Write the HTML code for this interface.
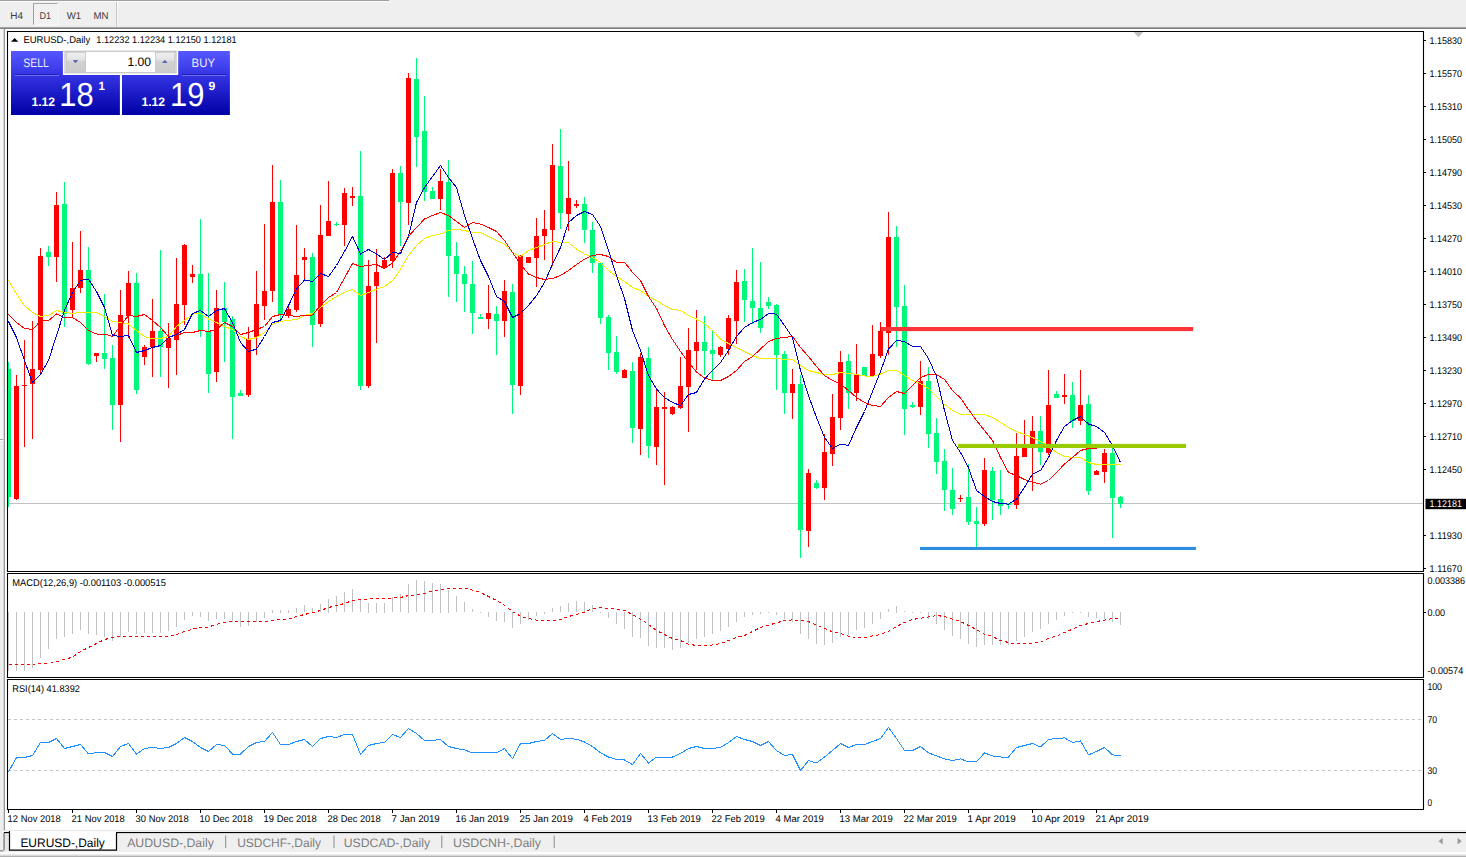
<!DOCTYPE html>
<html><head><meta charset="utf-8"><title>EURUSD-,Daily</title>
<style>
html,body{margin:0;padding:0;background:#fff;overflow:hidden;}
body{width:1466px;height:857px;font-family:"Liberation Sans",sans-serif;}
svg{display:block;font-family:"Liberation Sans",sans-serif;}
</style></head><body>
<svg width="1466" height="857" viewBox="0 0 1466 857" text-rendering="geometricPrecision">
<rect x="0" y="0" width="1466" height="857" fill="#ffffff" />
<rect x="0" y="0" width="1466" height="29" fill="#efefef" />
<rect x="0" y="0" width="389" height="1" fill="#a0a0a0" />
<rect x="0" y="1" width="389" height="1" fill="#fafafa" />
<linearGradient id="tbl" x1="0" y1="0" x2="0" y2="1"><stop offset="0" stop-color="#e4e4e4"/><stop offset="0.7" stop-color="#6c6c6c"/><stop offset="1" stop-color="#b0b0b0"/></linearGradient>
<rect x="0" y="26.6" width="1466" height="2.4" fill="url(#tbl)" />
<rect x="0" y="29" width="1466" height="2" fill="#ffffff" />
<rect x="0" y="29" width="5" height="802" fill="#f0f0f0" />
<linearGradient id="lft" x1="0" y1="0" x2="1" y2="0"><stop offset="0" stop-color="#d8d8d8"/><stop offset="1" stop-color="#7c7c7c"/></linearGradient>
<rect x="3.2" y="29" width="1.8" height="802" fill="url(#lft)" />
<rect x="0" y="29" width="3.2" height="410" fill="#f7f7f7" />
<rect x="0" y="439" width="3.2" height="1" fill="#a6a6a6" />
<rect x="0" y="440" width="3.2" height="1" fill="#ffffff" />
<rect x="0" y="441" width="3.2" height="390" fill="#eeeeee" />
<pattern id="dots" width="2" height="2" patternUnits="userSpaceOnUse"><rect width="2" height="2" fill="#f6f6f6"/><rect width="1" height="1" fill="#ececec"/><rect x="1" y="1" width="1" height="1" fill="#ececec"/></pattern>
<rect x="33" y="3" width="25.5" height="22.5" fill="url(#dots)" />
<rect x="33" y="3" width="25.2" height="1.0" fill="#a8a8a8" />
<rect x="33" y="3" width="1.0" height="22.2" fill="#a0a0a0" />
<rect x="57.6" y="3" width="0.9" height="22.5" fill="#fbfbfb" />
<rect x="33" y="24.6" width="25.5" height="0.9" fill="#fbfbfb" />
<text x="10.3" y="18.9" font-size="9.8" fill="#3c3c3c" textLength="12.8" lengthAdjust="spacingAndGlyphs" >H4</text>
<text x="39.5" y="18.9" font-size="9.8" fill="#3c3c3c" textLength="11.6" lengthAdjust="spacingAndGlyphs" >D1</text>
<text x="66.8" y="18.9" font-size="9.8" fill="#3c3c3c" textLength="14.4" lengthAdjust="spacingAndGlyphs" >W1</text>
<text x="93.4" y="18.9" font-size="9.8" fill="#3c3c3c" textLength="15.0" lengthAdjust="spacingAndGlyphs" >MN</text>
<rect x="116.2" y="2" width="0.9" height="24.5" fill="#bdbdbd" />
<rect x="117.1" y="2" width="0.9" height="24.5" fill="#fbfbfb" />
<path d="M7.5 31.5 H1423.5 V571.5 H7.5 Z" fill="none" stroke="#000" stroke-width="1.1"/>
<path d="M7.5 573.5 H1423.5 V677.5 H7.5 Z" fill="none" stroke="#000" stroke-width="1.1"/>
<path d="M7.5 679.5 H1423.5 V809.5 H7.5 Z" fill="none" stroke="#000" stroke-width="1.1"/>
<path d="M1133.8 32 H1143.2 L1138.5 37.3 Z" fill="#c0c0c0"/>
<g shape-rendering="crispEdges">
<rect x="8" y="503" width="1415" height="1" fill="#c0c0c0" />
</g>
<g shape-rendering="crispEdges">
<rect x="8" y="362" width="1" height="145" fill="#00f87a" />
<rect x="8" y="369" width="3" height="128" fill="#00f87a" />
<rect x="16" y="375" width="1" height="125" fill="#ff0000" />
<rect x="14" y="386" width="5" height="113" fill="#ff0000" />
<rect x="24" y="340" width="1" height="107" fill="#ff0000" />
<rect x="22" y="385" width="5" height="1" fill="#ff0000" />
<rect x="32" y="321" width="1" height="118" fill="#ff0000" />
<rect x="30" y="369" width="5" height="15" fill="#ff0000" />
<rect x="40" y="248" width="1" height="125" fill="#ff0000" />
<rect x="38" y="256" width="5" height="114" fill="#ff0000" />
<rect x="48" y="246" width="1" height="20" fill="#00f87a" />
<rect x="46" y="252" width="5" height="5" fill="#00f87a" />
<rect x="56" y="192" width="1" height="90" fill="#ff0000" />
<rect x="54" y="205" width="5" height="52" fill="#ff0000" />
<rect x="64" y="182" width="1" height="145" fill="#00f87a" />
<rect x="62" y="204" width="5" height="110" fill="#00f87a" />
<rect x="72" y="242" width="1" height="75" fill="#ff0000" />
<rect x="70" y="288" width="5" height="22" fill="#ff0000" />
<rect x="80" y="231" width="1" height="62" fill="#ff0000" />
<rect x="78" y="270" width="5" height="18" fill="#ff0000" />
<rect x="88" y="247" width="1" height="118" fill="#00f87a" />
<rect x="86" y="270" width="5" height="94" fill="#00f87a" />
<rect x="96" y="353" width="1" height="9" fill="#ff0000" />
<rect x="94" y="353" width="5" height="3" fill="#ff0000" />
<rect x="104" y="294" width="1" height="75" fill="#00f87a" />
<rect x="102" y="353" width="5" height="6" fill="#00f87a" />
<rect x="112" y="345" width="1" height="85" fill="#00f87a" />
<rect x="110" y="358" width="5" height="47" fill="#00f87a" />
<rect x="120" y="290" width="1" height="152" fill="#ff0000" />
<rect x="118" y="315" width="5" height="90" fill="#ff0000" />
<rect x="128" y="271" width="1" height="67" fill="#ff0000" />
<rect x="126" y="283" width="5" height="33" fill="#ff0000" />
<rect x="136" y="273" width="1" height="121" fill="#00f87a" />
<rect x="134" y="283" width="5" height="107" fill="#00f87a" />
<rect x="144" y="345" width="1" height="20" fill="#ff0000" />
<rect x="142" y="347" width="5" height="10" fill="#ff0000" />
<rect x="152" y="299" width="1" height="78" fill="#ff0000" />
<rect x="150" y="331" width="5" height="16" fill="#ff0000" />
<rect x="160" y="250" width="1" height="127" fill="#00f87a" />
<rect x="158" y="331" width="5" height="16" fill="#00f87a" />
<rect x="168" y="323" width="1" height="65" fill="#ff0000" />
<rect x="166" y="338" width="5" height="10" fill="#ff0000" />
<rect x="176" y="258" width="1" height="117" fill="#ff0000" />
<rect x="174" y="304" width="5" height="36" fill="#ff0000" />
<rect x="184" y="244" width="1" height="81" fill="#ff0000" />
<rect x="182" y="245" width="5" height="60" fill="#ff0000" />
<rect x="192" y="265" width="1" height="18" fill="#ff0000" />
<rect x="190" y="274" width="5" height="3" fill="#ff0000" />
<rect x="200" y="219" width="1" height="118" fill="#00f87a" />
<rect x="198" y="274" width="5" height="56" fill="#00f87a" />
<rect x="208" y="273" width="1" height="120" fill="#00f87a" />
<rect x="206" y="331" width="5" height="43" fill="#00f87a" />
<rect x="216" y="290" width="1" height="92" fill="#ff0000" />
<rect x="214" y="308" width="5" height="64" fill="#ff0000" />
<rect x="224" y="282" width="1" height="80" fill="#00f87a" />
<rect x="222" y="308" width="5" height="14" fill="#00f87a" />
<rect x="232" y="316" width="1" height="123" fill="#00f87a" />
<rect x="230" y="319" width="5" height="78" fill="#00f87a" />
<rect x="240" y="390" width="1" height="6" fill="#00f87a" />
<rect x="238" y="393" width="5" height="3" fill="#00f87a" />
<rect x="248" y="327" width="1" height="70" fill="#ff0000" />
<rect x="246" y="339" width="5" height="56" fill="#ff0000" />
<rect x="256" y="271" width="1" height="84" fill="#ff0000" />
<rect x="254" y="304" width="5" height="33" fill="#ff0000" />
<rect x="264" y="224" width="1" height="96" fill="#ff0000" />
<rect x="262" y="291" width="5" height="15" fill="#ff0000" />
<rect x="272" y="165" width="1" height="137" fill="#ff0000" />
<rect x="270" y="202" width="5" height="89" fill="#ff0000" />
<rect x="280" y="180" width="1" height="140" fill="#00f87a" />
<rect x="278" y="202" width="5" height="113" fill="#00f87a" />
<rect x="288" y="307" width="1" height="11" fill="#ff0000" />
<rect x="286" y="309" width="5" height="7" fill="#ff0000" />
<rect x="296" y="225" width="1" height="87" fill="#ff0000" />
<rect x="294" y="275" width="5" height="35" fill="#ff0000" />
<rect x="304" y="248" width="1" height="32" fill="#ff0000" />
<rect x="302" y="257" width="5" height="3" fill="#ff0000" />
<rect x="312" y="253" width="1" height="94" fill="#00f87a" />
<rect x="310" y="257" width="5" height="68" fill="#00f87a" />
<rect x="320" y="205" width="1" height="122" fill="#ff0000" />
<rect x="318" y="235" width="5" height="89" fill="#ff0000" />
<rect x="328" y="181" width="1" height="55" fill="#ff0000" />
<rect x="326" y="221" width="5" height="15" fill="#ff0000" />
<rect x="336" y="222" width="1" height="4" fill="#00f87a" />
<rect x="334" y="224" width="5" height="1" fill="#00f87a" />
<rect x="344" y="188" width="1" height="58" fill="#ff0000" />
<rect x="342" y="193" width="5" height="32" fill="#ff0000" />
<rect x="352" y="187" width="1" height="19" fill="#ff0000" />
<rect x="350" y="196" width="5" height="2" fill="#ff0000" />
<rect x="360" y="151" width="1" height="239" fill="#00f87a" />
<rect x="358" y="196" width="5" height="190" fill="#00f87a" />
<rect x="368" y="260" width="1" height="128" fill="#ff0000" />
<rect x="366" y="286" width="5" height="100" fill="#ff0000" />
<rect x="376" y="249" width="1" height="94" fill="#ff0000" />
<rect x="374" y="272" width="5" height="14" fill="#ff0000" />
<rect x="384" y="257" width="1" height="12" fill="#ff0000" />
<rect x="382" y="260" width="5" height="8" fill="#ff0000" />
<rect x="392" y="169" width="1" height="99" fill="#ff0000" />
<rect x="390" y="173" width="5" height="88" fill="#ff0000" />
<rect x="400" y="166" width="1" height="80" fill="#00f87a" />
<rect x="398" y="173" width="5" height="29" fill="#00f87a" />
<rect x="408" y="73" width="1" height="152" fill="#ff0000" />
<rect x="406" y="78" width="5" height="125" fill="#ff0000" />
<rect x="416" y="58" width="1" height="109" fill="#00f87a" />
<rect x="414" y="79" width="5" height="58" fill="#00f87a" />
<rect x="424" y="96" width="1" height="105" fill="#00f87a" />
<rect x="422" y="131" width="5" height="61" fill="#00f87a" />
<rect x="432" y="187" width="1" height="12" fill="#00f87a" />
<rect x="430" y="191" width="5" height="8" fill="#00f87a" />
<rect x="440" y="169" width="1" height="41" fill="#ff0000" />
<rect x="438" y="181" width="5" height="18" fill="#ff0000" />
<rect x="448" y="160" width="1" height="137" fill="#00f87a" />
<rect x="446" y="182" width="5" height="74" fill="#00f87a" />
<rect x="456" y="242" width="1" height="60" fill="#00f87a" />
<rect x="454" y="256" width="5" height="18" fill="#00f87a" />
<rect x="464" y="266" width="1" height="46" fill="#00f87a" />
<rect x="462" y="274" width="5" height="10" fill="#00f87a" />
<rect x="472" y="261" width="1" height="73" fill="#00f87a" />
<rect x="470" y="284" width="5" height="29" fill="#00f87a" />
<rect x="480" y="314" width="1" height="5" fill="#00f87a" />
<rect x="478" y="317" width="5" height="2" fill="#00f87a" />
<rect x="488" y="285" width="1" height="44" fill="#ff0000" />
<rect x="486" y="313" width="5" height="6" fill="#ff0000" />
<rect x="496" y="306" width="1" height="49" fill="#00f87a" />
<rect x="494" y="314" width="5" height="7" fill="#00f87a" />
<rect x="504" y="280" width="1" height="57" fill="#ff0000" />
<rect x="502" y="291" width="5" height="30" fill="#ff0000" />
<rect x="512" y="284" width="1" height="130" fill="#00f87a" />
<rect x="510" y="292" width="5" height="93" fill="#00f87a" />
<rect x="520" y="255" width="1" height="140" fill="#ff0000" />
<rect x="518" y="256" width="5" height="130" fill="#ff0000" />
<rect x="528" y="257" width="1" height="6" fill="#ff0000" />
<rect x="526" y="257" width="5" height="6" fill="#ff0000" />
<rect x="536" y="218" width="1" height="69" fill="#ff0000" />
<rect x="534" y="236" width="5" height="22" fill="#ff0000" />
<rect x="544" y="210" width="1" height="50" fill="#ff0000" />
<rect x="542" y="229" width="5" height="7" fill="#ff0000" />
<rect x="552" y="144" width="1" height="122" fill="#ff0000" />
<rect x="550" y="165" width="5" height="65" fill="#ff0000" />
<rect x="560" y="129" width="1" height="100" fill="#00f87a" />
<rect x="558" y="166" width="5" height="47" fill="#00f87a" />
<rect x="568" y="161" width="1" height="70" fill="#ff0000" />
<rect x="566" y="198" width="5" height="16" fill="#ff0000" />
<rect x="576" y="200" width="1" height="8" fill="#ff0000" />
<rect x="574" y="204" width="5" height="2" fill="#ff0000" />
<rect x="584" y="197" width="1" height="46" fill="#00f87a" />
<rect x="582" y="204" width="5" height="26" fill="#00f87a" />
<rect x="592" y="222" width="1" height="51" fill="#00f87a" />
<rect x="590" y="230" width="5" height="33" fill="#00f87a" />
<rect x="600" y="262" width="1" height="62" fill="#00f87a" />
<rect x="598" y="263" width="5" height="55" fill="#00f87a" />
<rect x="608" y="315" width="1" height="55" fill="#00f87a" />
<rect x="606" y="317" width="5" height="36" fill="#00f87a" />
<rect x="616" y="336" width="1" height="38" fill="#00f87a" />
<rect x="614" y="352" width="5" height="20" fill="#00f87a" />
<rect x="624" y="369" width="1" height="9" fill="#ff0000" />
<rect x="622" y="370" width="5" height="8" fill="#ff0000" />
<rect x="632" y="362" width="1" height="81" fill="#00f87a" />
<rect x="630" y="371" width="5" height="57" fill="#00f87a" />
<rect x="640" y="353" width="1" height="102" fill="#ff0000" />
<rect x="638" y="357" width="5" height="72" fill="#ff0000" />
<rect x="648" y="347" width="1" height="111" fill="#00f87a" />
<rect x="646" y="358" width="5" height="88" fill="#00f87a" />
<rect x="656" y="388" width="1" height="77" fill="#ff0000" />
<rect x="654" y="407" width="5" height="40" fill="#ff0000" />
<rect x="664" y="392" width="1" height="93" fill="#ff0000" />
<rect x="662" y="407" width="5" height="2" fill="#ff0000" />
<rect x="672" y="406" width="1" height="9" fill="#ff0000" />
<rect x="670" y="407" width="5" height="7" fill="#ff0000" />
<rect x="680" y="357" width="1" height="52" fill="#ff0000" />
<rect x="678" y="386" width="5" height="22" fill="#ff0000" />
<rect x="688" y="328" width="1" height="104" fill="#ff0000" />
<rect x="686" y="350" width="5" height="37" fill="#ff0000" />
<rect x="696" y="310" width="1" height="60" fill="#ff0000" />
<rect x="694" y="342" width="5" height="9" fill="#ff0000" />
<rect x="704" y="316" width="1" height="59" fill="#00f87a" />
<rect x="702" y="342" width="5" height="9" fill="#00f87a" />
<rect x="712" y="330" width="1" height="50" fill="#00f87a" />
<rect x="710" y="350" width="5" height="4" fill="#00f87a" />
<rect x="720" y="346" width="1" height="11" fill="#ff0000" />
<rect x="718" y="347" width="5" height="8" fill="#ff0000" />
<rect x="728" y="315" width="1" height="40" fill="#ff0000" />
<rect x="726" y="318" width="5" height="31" fill="#ff0000" />
<rect x="736" y="270" width="1" height="74" fill="#ff0000" />
<rect x="734" y="282" width="5" height="39" fill="#ff0000" />
<rect x="744" y="269" width="1" height="53" fill="#00f87a" />
<rect x="742" y="281" width="5" height="19" fill="#00f87a" />
<rect x="752" y="248" width="1" height="76" fill="#00f87a" />
<rect x="750" y="301" width="5" height="7" fill="#00f87a" />
<rect x="760" y="262" width="1" height="71" fill="#00f87a" />
<rect x="758" y="308" width="5" height="20" fill="#00f87a" />
<rect x="768" y="297" width="1" height="12" fill="#00f87a" />
<rect x="766" y="302" width="5" height="4" fill="#00f87a" />
<rect x="776" y="304" width="1" height="86" fill="#00f87a" />
<rect x="774" y="305" width="5" height="50" fill="#00f87a" />
<rect x="784" y="351" width="1" height="63" fill="#00f87a" />
<rect x="782" y="354" width="5" height="39" fill="#00f87a" />
<rect x="792" y="369" width="1" height="50" fill="#ff0000" />
<rect x="790" y="384" width="5" height="9" fill="#ff0000" />
<rect x="800" y="375" width="1" height="183" fill="#00f87a" />
<rect x="798" y="384" width="5" height="146" fill="#00f87a" />
<rect x="808" y="469" width="1" height="78" fill="#ff0000" />
<rect x="806" y="473" width="5" height="58" fill="#ff0000" />
<rect x="816" y="480" width="1" height="9" fill="#00f87a" />
<rect x="814" y="483" width="5" height="5" fill="#00f87a" />
<rect x="824" y="434" width="1" height="66" fill="#ff0000" />
<rect x="822" y="452" width="5" height="36" fill="#ff0000" />
<rect x="832" y="394" width="1" height="72" fill="#ff0000" />
<rect x="830" y="417" width="5" height="37" fill="#ff0000" />
<rect x="840" y="351" width="1" height="79" fill="#ff0000" />
<rect x="838" y="362" width="5" height="56" fill="#ff0000" />
<rect x="848" y="354" width="1" height="55" fill="#00f87a" />
<rect x="846" y="361" width="5" height="32" fill="#00f87a" />
<rect x="856" y="344" width="1" height="57" fill="#ff0000" />
<rect x="854" y="375" width="5" height="18" fill="#ff0000" />
<rect x="864" y="367" width="1" height="9" fill="#00f87a" />
<rect x="862" y="367" width="5" height="9" fill="#00f87a" />
<rect x="872" y="325" width="1" height="51" fill="#ff0000" />
<rect x="870" y="354" width="5" height="22" fill="#ff0000" />
<rect x="880" y="322" width="1" height="36" fill="#ff0000" />
<rect x="878" y="331" width="5" height="25" fill="#ff0000" />
<rect x="888" y="212" width="1" height="143" fill="#ff0000" />
<rect x="886" y="237" width="5" height="96" fill="#ff0000" />
<rect x="896" y="226" width="1" height="121" fill="#00f87a" />
<rect x="894" y="237" width="5" height="70" fill="#00f87a" />
<rect x="904" y="285" width="1" height="150" fill="#00f87a" />
<rect x="902" y="306" width="5" height="103" fill="#00f87a" />
<rect x="912" y="402" width="1" height="6" fill="#00f87a" />
<rect x="910" y="405" width="5" height="2" fill="#00f87a" />
<rect x="920" y="361" width="1" height="54" fill="#ff0000" />
<rect x="918" y="381" width="5" height="26" fill="#ff0000" />
<rect x="928" y="367" width="1" height="81" fill="#00f87a" />
<rect x="926" y="381" width="5" height="53" fill="#00f87a" />
<rect x="936" y="418" width="1" height="56" fill="#00f87a" />
<rect x="934" y="433" width="5" height="29" fill="#00f87a" />
<rect x="944" y="449" width="1" height="62" fill="#00f87a" />
<rect x="942" y="461" width="5" height="29" fill="#00f87a" />
<rect x="952" y="468" width="1" height="47" fill="#00f87a" />
<rect x="950" y="490" width="5" height="19" fill="#00f87a" />
<rect x="960" y="495" width="1" height="7" fill="#ff0000" />
<rect x="958" y="498" width="5" height="1" fill="#ff0000" />
<rect x="968" y="464" width="1" height="61" fill="#00f87a" />
<rect x="966" y="497" width="5" height="25" fill="#00f87a" />
<rect x="976" y="507" width="1" height="40" fill="#00f87a" />
<rect x="974" y="521" width="5" height="3" fill="#00f87a" />
<rect x="984" y="458" width="1" height="68" fill="#ff0000" />
<rect x="982" y="470" width="5" height="54" fill="#ff0000" />
<rect x="992" y="467" width="1" height="53" fill="#00f87a" />
<rect x="990" y="471" width="5" height="29" fill="#00f87a" />
<rect x="1000" y="470" width="1" height="45" fill="#00f87a" />
<rect x="998" y="499" width="5" height="7" fill="#00f87a" />
<rect x="1008" y="503" width="1" height="6" fill="#00f87a" />
<rect x="1006" y="503" width="5" height="2" fill="#00f87a" />
<rect x="1016" y="433" width="1" height="76" fill="#ff0000" />
<rect x="1014" y="456" width="5" height="49" fill="#ff0000" />
<rect x="1024" y="420" width="1" height="37" fill="#ff0000" />
<rect x="1022" y="446" width="5" height="11" fill="#ff0000" />
<rect x="1032" y="416" width="1" height="75" fill="#ff0000" />
<rect x="1030" y="431" width="5" height="14" fill="#ff0000" />
<rect x="1040" y="416" width="1" height="49" fill="#00f87a" />
<rect x="1038" y="431" width="5" height="21" fill="#00f87a" />
<rect x="1048" y="370" width="1" height="85" fill="#ff0000" />
<rect x="1046" y="405" width="5" height="48" fill="#ff0000" />
<rect x="1056" y="391" width="1" height="7" fill="#00f87a" />
<rect x="1054" y="394" width="5" height="4" fill="#00f87a" />
<rect x="1064" y="374" width="1" height="30" fill="#ff0000" />
<rect x="1062" y="395" width="5" height="2" fill="#ff0000" />
<rect x="1072" y="382" width="1" height="46" fill="#00f87a" />
<rect x="1070" y="395" width="5" height="26" fill="#00f87a" />
<rect x="1080" y="370" width="1" height="55" fill="#ff0000" />
<rect x="1078" y="405" width="5" height="16" fill="#ff0000" />
<rect x="1088" y="395" width="1" height="100" fill="#00f87a" />
<rect x="1086" y="404" width="5" height="87" fill="#00f87a" />
<rect x="1096" y="470" width="1" height="5" fill="#ff0000" />
<rect x="1094" y="471" width="5" height="4" fill="#ff0000" />
<rect x="1104" y="449" width="1" height="34" fill="#ff0000" />
<rect x="1102" y="453" width="5" height="19" fill="#ff0000" />
<rect x="1112" y="447" width="1" height="91" fill="#00f87a" />
<rect x="1110" y="453" width="5" height="45" fill="#00f87a" />
<rect x="1120" y="496" width="1" height="12" fill="#00f87a" />
<rect x="1118" y="497" width="5" height="7" fill="#00f87a" />
</g>
<polyline points="8.5,280.5 16.5,294.1 24.5,305.5 32.5,312.5 40.5,316.5 48.5,315.5 56.5,310.5 64.5,312.5 72.5,313.5 80.5,312.5 88.5,312.5 96.5,312.5 104.5,316.5 112.5,321.5 120.5,322.5 128.5,324.0 136.5,330.5 144.5,336.5 152.5,339.0 160.5,338.5 168.5,336.5 176.5,326.5 184.5,320.5 192.5,314.0 200.5,313.5 208.5,319.0 216.5,322.5 224.5,326.5 232.5,329.5 240.5,336.5 248.5,339.5 256.5,337.5 264.5,332.5 272.5,324.1 280.5,321.5 288.5,320.5 296.5,319.5 304.5,315.5 312.5,313.5 320.5,307.5 328.5,301.5 336.5,296.5 344.5,292.2 352.5,289.5 360.5,295.5 368.5,292.5 376.5,289.2 384.5,286.5 392.5,280.5 400.5,269.2 408.5,255.5 416.5,245.5 424.5,238.5 432.5,235.5 440.5,234.0 448.5,230.5 456.5,229.5 464.5,230.5 472.5,232.5 480.5,232.5 488.5,236.5 496.5,240.5 504.5,244.1 512.5,252.5 520.5,256.5 528.5,250.5 536.5,247.5 544.5,244.5 552.5,241.5 560.5,242.5 568.5,242.5 576.5,249.1 584.5,254.1 592.5,257.5 600.5,262.5 608.5,270.5 616.5,276.5 624.5,281.5 632.5,287.5 640.5,290.5 648.5,296.5 656.5,300.5 664.5,305.5 672.5,309.5 680.5,310.5 688.5,315.5 696.5,319.0 704.5,323.5 712.5,330.5 720.5,339.1 728.5,343.5 736.5,347.5 744.5,351.5 752.5,355.5 760.5,358.5 768.5,358.5 776.5,358.5 784.5,359.5 792.5,359.5 800.5,365.5 808.5,370.5 816.5,372.5 824.5,374.5 832.5,374.5 840.5,372.5 848.5,373.5 856.5,374.5 864.5,376.0 872.5,376.5 880.5,374.0 888.5,370.5 896.5,370.5 904.5,375.5 912.5,380.5 920.5,383.5 928.5,388.5 936.5,396.5 944.5,404.2 952.5,410.5 960.5,414.2 968.5,414.2 976.5,414.9 984.5,414.5 992.5,417.5 1000.5,422.5 1008.5,427.5 1016.5,431.5 1024.5,434.5 1032.5,437.5 1040.5,441.5 1048.5,446.5 1056.5,452.5 1064.5,456.5 1072.5,457.5 1080.5,457.5 1088.5,462.5 1096.5,464.5 1104.5,464.1 1112.5,464.5 1120.5,464.5" fill="none" stroke="#f4ee00" stroke-width="1.0" stroke-linejoin="round" shape-rendering="crispEdges"/>
<polyline points="8.5,314.5 16.5,322.5 24.5,328.5 32.5,329.5 40.5,321.0 48.5,320.5 56.5,314.0 64.5,317.5 72.5,317.5 80.5,322.5 88.5,330.5 96.5,334.0 104.5,334.0 112.5,336.5 120.5,325.5 128.5,315.5 136.5,316.5 144.5,314.5 152.5,320.5 160.5,327.5 168.5,336.5 176.5,335.5 184.5,332.5 192.5,332.5 200.5,330.5 208.5,331.5 216.5,329.5 224.5,322.5 232.5,326.5 240.5,334.5 248.5,332.5 256.5,329.5 264.5,326.5 272.5,316.5 280.5,314.5 288.5,315.5 296.5,316.5 304.5,315.5 312.5,315.0 320.5,305.5 328.5,297.5 336.5,292.5 344.5,278.0 352.5,263.5 360.5,266.5 368.5,265.5 376.5,264.5 384.5,268.5 392.5,263.0 400.5,251.5 408.5,236.5 416.5,227.5 424.5,219.0 432.5,215.5 440.5,212.5 448.5,215.5 456.5,221.5 464.5,227.5 472.5,222.5 480.5,224.1 488.5,227.5 496.5,231.5 504.5,240.5 512.5,252.5 520.5,264.1 528.5,274.0 536.5,277.5 544.5,279.5 552.5,278.5 560.5,275.5 568.5,270.5 576.5,264.5 584.5,259.1 592.5,255.5 600.5,254.5 608.5,256.5 616.5,262.5 624.5,262.1 632.5,272.5 640.5,280.5 648.5,296.5 656.5,308.5 664.5,325.5 672.5,339.5 680.5,351.5 688.5,362.5 696.5,372.0 704.5,378.0 712.5,380.5 720.5,380.5 728.5,376.5 736.5,370.5 744.5,361.5 752.5,356.5 760.5,349.1 768.5,341.5 776.5,338.5 784.5,337.5 792.5,336.5 800.5,347.5 808.5,356.5 816.5,366.5 824.5,375.5 832.5,380.5 840.5,384.0 848.5,390.5 856.5,397.5 864.5,402.5 872.5,405.5 880.5,406.5 888.5,397.5 896.5,391.5 904.5,393.5 912.5,385.5 920.5,377.5 928.5,374.5 936.5,374.5 944.5,379.5 952.5,390.5 960.5,398.0 968.5,409.5 976.5,420.5 984.5,430.5 992.5,440.5 1000.5,457.5 1008.5,472.5 1016.5,475.5 1024.5,479.5 1032.5,482.1 1040.5,484.1 1048.5,480.5 1056.5,472.5 1064.5,464.1 1072.5,457.5 1080.5,450.5 1088.5,448.5 1096.5,448.5" fill="none" stroke="#ff0000" stroke-width="1.0" stroke-linejoin="round" shape-rendering="crispEdges"/>
<polyline points="8.5,321.5 16.5,337.5 24.5,360.5 32.5,382.5 40.5,374.5 48.5,360.5 56.5,335.5 64.5,310.5 72.5,292.5 80.5,280.5 88.5,279.1 96.5,291.5 104.5,307.5 112.5,335.5 120.5,336.5 128.5,335.5 136.5,352.5 144.5,350.5 152.5,347.5 160.5,345.5 168.5,337.5 176.5,334.5 184.5,329.5 192.5,313.5 200.5,310.5 208.5,316.5 216.5,310.5 224.5,308.5 232.5,322.5 240.5,342.5 248.5,351.5 256.5,349.1 264.5,336.5 272.5,322.5 280.5,320.5 288.5,305.5 296.5,289.2 304.5,280.0 312.5,281.5 320.5,273.5 328.5,276.5 336.5,265.5 344.5,251.5 352.5,236.5 360.5,254.0 368.5,249.5 376.5,254.0 384.5,259.5 392.5,252.5 400.5,253.5 408.5,236.5 416.5,202.5 424.5,187.5 432.5,176.5 440.5,165.5 448.5,177.5 456.5,187.5 464.5,215.5 472.5,238.5 480.5,260.5 488.5,276.5 496.5,296.5 504.5,301.5 512.5,317.5 520.5,313.5 528.5,305.5 536.5,295.5 544.5,282.5 552.5,264.1 560.5,247.5 568.5,222.5 576.5,215.5 584.5,211.5 592.5,214.5 600.5,226.5 608.5,250.5 616.5,275.5 624.5,298.5 632.5,330.5 640.5,350.5 648.5,375.5 656.5,389.1 664.5,397.5 672.5,402.5 680.5,405.5 688.5,394.5 696.5,392.5 704.5,379.0 712.5,370.5 720.5,362.5 728.5,350.5 736.5,336.5 744.5,327.5 752.5,322.5 760.5,319.5 768.5,313.5 776.5,314.1 784.5,325.5 792.5,337.5 800.5,370.5 808.5,395.5 816.5,417.5 824.5,437.5 832.5,448.5 840.5,444.1 848.5,445.5 856.5,427.5 864.5,411.5 872.5,391.5 880.5,371.5 888.5,349.1 896.5,340.5 904.5,341.5 912.5,346.5 920.5,346.5 928.5,358.5 936.5,376.5 944.5,410.5 952.5,440.5 960.5,452.5 968.5,467.5 976.5,490.5 984.5,496.5 992.5,501.5 1000.5,503.5 1008.5,504.1 1016.5,499.1 1024.5,487.5 1032.5,474.1 1040.5,470.5 1048.5,457.5 1056.5,440.5 1064.5,426.5 1072.5,420.5 1080.5,416.5 1088.5,424.1 1096.5,426.5 1104.5,432.5 1112.5,445.5 1120.5,462.5" fill="none" stroke="#0000c8" stroke-width="1.0" stroke-linejoin="round" shape-rendering="crispEdges"/>
<rect x="881" y="327" width="312.2" height="4.1" fill="#fd3438" />
<rect x="958" y="443.9" width="228.1" height="4.1" fill="#99cc00" />
<rect x="920" y="546.9" width="276" height="3.1" fill="#2c8ce2" />
<linearGradient id="bg1" x1="0" y1="0" x2="0" y2="1"><stop offset="0" stop-color="#5858ff"/><stop offset="0.35" stop-color="#3636e6"/><stop offset="1" stop-color="#0000a6"/></linearGradient>
<linearGradient id="btn" x1="0" y1="0" x2="0" y2="1"><stop offset="0" stop-color="#f0f0f0"/><stop offset="0.4" stop-color="#e2e2e2"/><stop offset="0.45" stop-color="#d2d2d2"/><stop offset="1" stop-color="#cccccc"/></linearGradient>
<path d="M11 51 H62.9 V75.1 H119.9 V114.9 H11 Z" fill="url(#bg1)"/>
<path d="M178.2 51 H229.9 V114.9 H122 V75.1 H178.2 Z" fill="url(#bg1)"/>
<rect x="15" y="74.2" width="44" height="0.9" fill="#1a1ab4" />
<rect x="15" y="75.1" width="44" height="0.9" fill="#7878ee" />
<rect x="182" y="74.2" width="44" height="0.9" fill="#1a1ab4" />
<rect x="182" y="75.1" width="44" height="0.9" fill="#7878ee" />
<text x="23.3" y="66.9" font-size="12.3" fill="#ececff" textLength="25.6" lengthAdjust="spacingAndGlyphs" >SELL</text>
<text x="191.6" y="66.9" font-size="12.3" fill="#ececff" textLength="23.4" lengthAdjust="spacingAndGlyphs" >BUY</text>
<rect x="65" y="51.2" width="111" height="21.6" fill="#ffffff" stroke="#ababab" stroke-width="0.9"/>
<rect x="66.4" y="52.6" width="19.2" height="18.8" fill="url(#btn)" stroke="#b6b6b6" stroke-width="0.6"/>
<rect x="155.6" y="52.6" width="19.2" height="18.8" fill="url(#btn)" stroke="#b6b6b6" stroke-width="0.6"/>
<path d="M72.8 60 H78.2 L75.5 63.2 Z" fill="#5868b8"/>
<path d="M162 63 H167.6 L164.8 59.8 Z" fill="#5868b8"/>
<text x="127.5" y="66.1" font-size="12.3" fill="#000" textLength="23.6" lengthAdjust="spacingAndGlyphs" >1.00</text>
<text x="31.5" y="105.9" font-size="12.3" fill="#fff" textLength="23.6" lengthAdjust="spacingAndGlyphs" font-weight="bold" >1.12</text>
<text x="59.3" y="105.9" font-size="33.4" fill="#fff" textLength="34.4" lengthAdjust="spacingAndGlyphs" >18</text>
<text x="98.5" y="90.1" font-size="12" fill="#fff" textLength="6.4" lengthAdjust="spacingAndGlyphs" font-weight="bold" >1</text>
<text x="141.5" y="105.9" font-size="12.3" fill="#fff" textLength="23.6" lengthAdjust="spacingAndGlyphs" font-weight="bold" >1.12</text>
<text x="170.1" y="105.9" font-size="33.4" fill="#fff" textLength="34.4" lengthAdjust="spacingAndGlyphs" >19</text>
<text x="208.6" y="90.1" font-size="12" fill="#fff" textLength="6.8" lengthAdjust="spacingAndGlyphs" font-weight="bold" >9</text>
<path d="M11 41.8 H18.3 L14.65 37.9 Z" fill="#000"/>
<text x="23.4" y="42.8" font-size="9.8" fill="#000" textLength="66.8" lengthAdjust="spacingAndGlyphs" >EURUSD-,Daily</text>
<text x="96.3" y="42.8" font-size="9.8" fill="#000" textLength="140.4" lengthAdjust="spacingAndGlyphs" >1.12232 1.12234 1.12150 1.12181</text>
<g shape-rendering="crispEdges">
<rect x="8" y="612" width="1" height="59" fill="#c0c0c0" />
<rect x="16" y="612" width="1" height="59" fill="#c0c0c0" />
<rect x="24" y="612" width="1" height="59" fill="#c0c0c0" />
<rect x="32" y="612" width="1" height="56" fill="#c0c0c0" />
<rect x="40" y="612" width="1" height="46" fill="#c0c0c0" />
<rect x="48" y="612" width="1" height="37" fill="#c0c0c0" />
<rect x="56" y="612" width="1" height="27" fill="#c0c0c0" />
<rect x="64" y="612" width="1" height="25" fill="#c0c0c0" />
<rect x="72" y="612" width="1" height="22" fill="#c0c0c0" />
<rect x="80" y="612" width="1" height="18" fill="#c0c0c0" />
<rect x="88" y="612" width="1" height="22" fill="#c0c0c0" />
<rect x="96" y="612" width="1" height="23" fill="#c0c0c0" />
<rect x="104" y="612" width="1" height="25" fill="#c0c0c0" />
<rect x="112" y="612" width="1" height="29" fill="#c0c0c0" />
<rect x="120" y="612" width="1" height="25" fill="#c0c0c0" />
<rect x="128" y="612" width="1" height="20" fill="#c0c0c0" />
<rect x="136" y="612" width="1" height="22" fill="#c0c0c0" />
<rect x="144" y="612" width="1" height="21" fill="#c0c0c0" />
<rect x="152" y="612" width="1" height="21" fill="#c0c0c0" />
<rect x="160" y="612" width="1" height="21" fill="#c0c0c0" />
<rect x="168" y="612" width="1" height="19" fill="#c0c0c0" />
<rect x="176" y="612" width="1" height="15" fill="#c0c0c0" />
<rect x="184" y="612" width="1" height="8" fill="#c0c0c0" />
<rect x="192" y="612" width="1" height="4" fill="#c0c0c0" />
<rect x="200" y="612" width="1" height="5" fill="#c0c0c0" />
<rect x="208" y="612" width="1" height="9" fill="#c0c0c0" />
<rect x="216" y="612" width="1" height="7" fill="#c0c0c0" />
<rect x="224" y="612" width="1" height="7" fill="#c0c0c0" />
<rect x="232" y="612" width="1" height="10" fill="#c0c0c0" />
<rect x="240" y="612" width="1" height="15" fill="#c0c0c0" />
<rect x="248" y="612" width="1" height="14" fill="#c0c0c0" />
<rect x="256" y="612" width="1" height="10" fill="#c0c0c0" />
<rect x="264" y="612" width="1" height="6" fill="#c0c0c0" />
<rect x="272" y="610" width="1" height="3" fill="#c0c0c0" />
<rect x="280" y="610" width="1" height="3" fill="#c0c0c0" />
<rect x="288" y="610" width="1" height="3" fill="#c0c0c0" />
<rect x="296" y="608" width="1" height="5" fill="#c0c0c0" />
<rect x="304" y="605" width="1" height="7" fill="#c0c0c0" />
<rect x="312" y="608" width="1" height="5" fill="#c0c0c0" />
<rect x="320" y="604" width="1" height="8" fill="#c0c0c0" />
<rect x="328" y="599" width="1" height="14" fill="#c0c0c0" />
<rect x="336" y="596" width="1" height="16" fill="#c0c0c0" />
<rect x="344" y="592" width="1" height="20" fill="#c0c0c0" />
<rect x="352" y="589" width="1" height="23" fill="#c0c0c0" />
<rect x="360" y="600" width="1" height="12" fill="#c0c0c0" />
<rect x="368" y="603" width="1" height="10" fill="#c0c0c0" />
<rect x="376" y="603" width="1" height="10" fill="#c0c0c0" />
<rect x="384" y="603" width="1" height="10" fill="#c0c0c0" />
<rect x="392" y="597" width="1" height="15" fill="#c0c0c0" />
<rect x="400" y="594" width="1" height="18" fill="#c0c0c0" />
<rect x="408" y="584" width="1" height="29" fill="#c0c0c0" />
<rect x="416" y="580" width="1" height="32" fill="#c0c0c0" />
<rect x="424" y="581" width="1" height="31" fill="#c0c0c0" />
<rect x="432" y="583" width="1" height="30" fill="#c0c0c0" />
<rect x="440" y="584" width="1" height="29" fill="#c0c0c0" />
<rect x="448" y="590" width="1" height="23" fill="#c0c0c0" />
<rect x="456" y="596" width="1" height="16" fill="#c0c0c0" />
<rect x="464" y="602" width="1" height="10" fill="#c0c0c0" />
<rect x="472" y="609" width="1" height="3" fill="#c0c0c0" />
<rect x="480" y="612" width="1" height="1" fill="#c0c0c0" />
<rect x="488" y="612" width="1" height="5" fill="#c0c0c0" />
<rect x="496" y="612" width="1" height="9" fill="#c0c0c0" />
<rect x="504" y="612" width="1" height="10" fill="#c0c0c0" />
<rect x="512" y="612" width="1" height="16" fill="#c0c0c0" />
<rect x="520" y="612" width="1" height="12" fill="#c0c0c0" />
<rect x="528" y="612" width="1" height="8" fill="#c0c0c0" />
<rect x="536" y="612" width="1" height="4" fill="#c0c0c0" />
<rect x="544" y="612" width="1" height="2" fill="#c0c0c0" />
<rect x="552" y="608" width="1" height="4" fill="#c0c0c0" />
<rect x="560" y="606" width="1" height="6" fill="#c0c0c0" />
<rect x="568" y="603" width="1" height="9" fill="#c0c0c0" />
<rect x="576" y="601" width="1" height="11" fill="#c0c0c0" />
<rect x="584" y="602" width="1" height="10" fill="#c0c0c0" />
<rect x="592" y="605" width="1" height="7" fill="#c0c0c0" />
<rect x="600" y="612" width="1" height="1" fill="#c0c0c0" />
<rect x="608" y="612" width="1" height="6" fill="#c0c0c0" />
<rect x="616" y="612" width="1" height="12" fill="#c0c0c0" />
<rect x="624" y="612" width="1" height="17" fill="#c0c0c0" />
<rect x="632" y="612" width="1" height="25" fill="#c0c0c0" />
<rect x="640" y="612" width="1" height="26" fill="#c0c0c0" />
<rect x="648" y="612" width="1" height="34" fill="#c0c0c0" />
<rect x="656" y="612" width="1" height="36" fill="#c0c0c0" />
<rect x="664" y="612" width="1" height="36" fill="#c0c0c0" />
<rect x="672" y="612" width="1" height="38" fill="#c0c0c0" />
<rect x="680" y="612" width="1" height="36" fill="#c0c0c0" />
<rect x="688" y="612" width="1" height="31" fill="#c0c0c0" />
<rect x="696" y="612" width="1" height="27" fill="#c0c0c0" />
<rect x="704" y="612" width="1" height="25" fill="#c0c0c0" />
<rect x="712" y="612" width="1" height="22" fill="#c0c0c0" />
<rect x="720" y="612" width="1" height="19" fill="#c0c0c0" />
<rect x="728" y="612" width="1" height="15" fill="#c0c0c0" />
<rect x="736" y="612" width="1" height="10" fill="#c0c0c0" />
<rect x="744" y="612" width="1" height="5" fill="#c0c0c0" />
<rect x="752" y="612" width="1" height="3" fill="#c0c0c0" />
<rect x="760" y="612" width="1" height="2" fill="#c0c0c0" />
<rect x="768" y="612" width="1" height="1" fill="#c0c0c0" />
<rect x="776" y="612" width="1" height="3" fill="#c0c0c0" />
<rect x="784" y="612" width="1" height="7" fill="#c0c0c0" />
<rect x="792" y="612" width="1" height="10" fill="#c0c0c0" />
<rect x="800" y="612" width="1" height="22" fill="#c0c0c0" />
<rect x="808" y="612" width="1" height="27" fill="#c0c0c0" />
<rect x="816" y="612" width="1" height="32" fill="#c0c0c0" />
<rect x="824" y="612" width="1" height="33" fill="#c0c0c0" />
<rect x="832" y="612" width="1" height="31" fill="#c0c0c0" />
<rect x="840" y="612" width="1" height="25" fill="#c0c0c0" />
<rect x="848" y="612" width="1" height="23" fill="#c0c0c0" />
<rect x="856" y="612" width="1" height="18" fill="#c0c0c0" />
<rect x="864" y="612" width="1" height="16" fill="#c0c0c0" />
<rect x="872" y="612" width="1" height="12" fill="#c0c0c0" />
<rect x="880" y="612" width="1" height="7" fill="#c0c0c0" />
<rect x="888" y="609" width="1" height="3" fill="#c0c0c0" />
<rect x="896" y="606" width="1" height="7" fill="#c0c0c0" />
<rect x="904" y="611" width="1" height="1" fill="#c0c0c0" />
<rect x="912" y="612" width="1" height="1" fill="#c0c0c0" />
<rect x="920" y="612" width="1" height="1" fill="#c0c0c0" />
<rect x="928" y="612" width="1" height="7" fill="#c0c0c0" />
<rect x="936" y="612" width="1" height="12" fill="#c0c0c0" />
<rect x="944" y="612" width="1" height="18" fill="#c0c0c0" />
<rect x="952" y="612" width="1" height="24" fill="#c0c0c0" />
<rect x="960" y="612" width="1" height="27" fill="#c0c0c0" />
<rect x="968" y="612" width="1" height="32" fill="#c0c0c0" />
<rect x="976" y="612" width="1" height="35" fill="#c0c0c0" />
<rect x="984" y="612" width="1" height="33" fill="#c0c0c0" />
<rect x="992" y="612" width="1" height="33" fill="#c0c0c0" />
<rect x="1000" y="612" width="1" height="33" fill="#c0c0c0" />
<rect x="1008" y="612" width="1" height="33" fill="#c0c0c0" />
<rect x="1016" y="612" width="1" height="29" fill="#c0c0c0" />
<rect x="1024" y="612" width="1" height="25" fill="#c0c0c0" />
<rect x="1032" y="612" width="1" height="20" fill="#c0c0c0" />
<rect x="1040" y="612" width="1" height="17" fill="#c0c0c0" />
<rect x="1048" y="612" width="1" height="12" fill="#c0c0c0" />
<rect x="1056" y="612" width="1" height="8" fill="#c0c0c0" />
<rect x="1064" y="612" width="1" height="4" fill="#c0c0c0" />
<rect x="1072" y="612" width="1" height="1" fill="#c0c0c0" />
<rect x="1080" y="612" width="1" height="1" fill="#c0c0c0" />
<rect x="1088" y="612" width="1" height="5" fill="#c0c0c0" />
<rect x="1096" y="612" width="1" height="6" fill="#c0c0c0" />
<rect x="1104" y="612" width="1" height="7" fill="#c0c0c0" />
<rect x="1112" y="612" width="1" height="10" fill="#c0c0c0" />
<rect x="1120" y="612" width="1" height="13" fill="#c0c0c0" />
</g>
<polyline points="8.5,664.1 16.5,664.1 24.5,664.1 32.5,664.1 40.5,663.8 48.5,663.5 56.5,661.9 64.5,659.2 72.5,657.3 80.5,651.5 88.5,647.5 96.5,643.5 104.5,639.5 112.5,637.5 120.5,636.5 128.5,636.0 136.5,636.0 144.5,636.0 152.5,636.0 160.5,636.0 168.5,636.0 176.5,634.5 184.5,631.5 192.5,629.2 200.5,627.5 208.5,627.0 216.5,624.3 224.5,622.3 232.5,621.5 240.5,621.5 248.5,621.5 256.5,621.5 264.5,621.5 272.5,620.5 280.5,619.5 288.5,619.1 296.5,616.5 304.5,614.5 312.5,612.5 320.5,610.5 328.5,607.5 336.5,605.5 344.5,603.5 352.5,600.5 360.5,599.5 368.5,599.1 376.5,598.5 384.5,598.5 392.5,598.1 400.5,597.5 408.5,595.5 416.5,595.1 424.5,593.5 432.5,591.0 440.5,589.5 448.5,588.5 456.5,588.0 464.5,588.0 472.5,590.1 480.5,592.5 488.5,596.5 496.5,600.5 504.5,605.5 512.5,611.5 520.5,616.1 528.5,618.5 536.5,620.2 544.5,621.0 552.5,620.5 560.5,619.5 568.5,616.5 576.5,614.5 584.5,612.2 592.5,608.5 600.5,607.9 608.5,608.1 616.5,609.2 624.5,610.5 632.5,614.5 640.5,619.1 648.5,624.5 656.5,630.5 664.5,634.5 672.5,638.5 680.5,640.5 688.5,644.2 696.5,645.5 704.5,645.5 712.5,645.0 720.5,643.5 728.5,640.5 736.5,637.5 744.5,635.5 752.5,631.5 760.5,627.5 768.5,625.1 776.5,622.9 784.5,620.5 792.5,619.9 800.5,620.5 808.5,621.5 816.5,625.1 824.5,628.5 832.5,631.9 840.5,633.5 848.5,636.3 856.5,637.5 864.5,637.5 872.5,636.0 880.5,634.5 888.5,631.1 896.5,626.5 904.5,622.5 912.5,619.5 920.5,618.2 928.5,616.9 936.5,615.5 944.5,616.5 952.5,619.1 960.5,621.5 968.5,625.5 976.5,629.5 984.5,634.1 992.5,636.5 1000.5,640.5 1008.5,642.5 1016.5,643.9 1024.5,643.5 1032.5,643.1 1040.5,642.0 1048.5,638.5 1056.5,636.0 1064.5,632.5 1072.5,629.2 1080.5,625.5 1088.5,623.5 1096.5,621.5 1104.5,620.2 1112.5,618.5 1120.5,618.5" fill="none" stroke="#ff0000" stroke-width="1.0" stroke-linejoin="round" stroke-dasharray="3 3" shape-rendering="crispEdges"/>
<text x="12.3" y="585.9" font-size="9.8" fill="#000" textLength="153.6" lengthAdjust="spacingAndGlyphs" >MACD(12,26,9) -0.001103 -0.000515</text>
<g shape-rendering="crispEdges">
<path d="M8 719.5 H1423" stroke="#c4c4c4" stroke-width="1" stroke-dasharray="3 3" fill="none"/>
<path d="M8 770.5 H1423" stroke="#c4c4c4" stroke-width="1" stroke-dasharray="3 3" fill="none"/>
</g>
<polyline points="8.5,772.0 16.5,757.5 24.5,757.5 32.5,755.5 40.5,742.5 48.5,742.5 56.5,738.5 64.5,748.5 72.5,746.5 80.5,744.5 88.5,754.0 96.5,752.5 104.5,752.5 112.5,756.5 120.5,746.5 128.5,743.5 136.5,754.0 144.5,748.5 152.5,747.5 160.5,748.5 168.5,747.5 176.5,743.5 184.5,737.5 192.5,741.5 200.5,747.5 208.5,751.5 216.5,744.5 224.5,745.5 232.5,754.0 240.5,754.0 248.5,746.5 256.5,742.5 264.5,741.5 272.5,732.5 280.5,744.5 288.5,744.5 296.5,741.5 304.5,739.5 312.5,746.5 320.5,738.5 328.5,736.5 336.5,737.5 344.5,734.5 352.5,734.5 360.5,754.5 368.5,745.5 376.5,743.5 384.5,742.5 392.5,734.5 400.5,737.5 408.5,728.5 416.5,733.5 424.5,740.5 432.5,740.5 440.5,739.5 448.5,746.5 456.5,748.5 464.5,749.9 472.5,752.9 480.5,752.9 488.5,752.9 496.5,752.9 504.5,748.5 512.5,758.9 520.5,743.5 528.5,743.5 536.5,741.5 544.5,740.5 552.5,733.5 560.5,739.5 568.5,738.5 576.5,739.3 584.5,742.0 592.5,746.5 600.5,752.9 608.5,757.0 616.5,759.5 624.5,760.0 632.5,764.5 640.5,753.5 648.5,763.0 656.5,757.0 664.5,757.0 672.5,757.0 680.5,753.5 688.5,748.5 696.5,746.5 704.5,748.5 712.5,748.5 720.5,747.5 728.5,742.5 736.5,736.5 744.5,739.5 752.5,741.5 760.5,745.5 768.5,741.5 776.5,750.5 784.5,755.5 792.5,754.5 800.5,770.5 808.5,760.5 816.5,763.0 824.5,757.0 832.5,750.5 840.5,743.5 848.5,747.5 856.5,744.5 864.5,744.5 872.5,741.5 880.5,738.5 888.5,727.5 896.5,738.5 904.5,750.5 912.5,750.5 920.5,746.5 928.5,752.9 936.5,755.9 944.5,758.9 952.5,760.5 960.5,758.9 968.5,761.9 976.5,761.9 984.5,752.9 992.5,755.9 1000.5,757.0 1008.5,757.0 1016.5,747.5 1024.5,745.5 1032.5,743.5 1040.5,746.9 1048.5,739.5 1056.5,738.5 1064.5,737.9 1072.5,742.5 1080.5,740.9 1088.5,754.8 1096.5,751.5 1104.5,747.5 1112.5,754.8 1120.5,755.9" fill="none" stroke="#1e90ff" stroke-width="1.0" stroke-linejoin="round" shape-rendering="crispEdges"/>
<text x="12.3" y="691.9" font-size="9.8" fill="#000" textLength="67.6" lengthAdjust="spacingAndGlyphs" >RSI(14) 41.8392</text>
<g shape-rendering="crispEdges">
<rect x="1424" y="40" width="2" height="1" fill="#000" />
<rect x="1424" y="73" width="2" height="1" fill="#000" />
<rect x="1424" y="106" width="2" height="1" fill="#000" />
<rect x="1424" y="139" width="2" height="1" fill="#000" />
<rect x="1424" y="172" width="2" height="1" fill="#000" />
<rect x="1424" y="205" width="2" height="1" fill="#000" />
<rect x="1424" y="238" width="2" height="1" fill="#000" />
<rect x="1424" y="271" width="2" height="1" fill="#000" />
<rect x="1424" y="304" width="2" height="1" fill="#000" />
<rect x="1424" y="337" width="2" height="1" fill="#000" />
<rect x="1424" y="370" width="2" height="1" fill="#000" />
<rect x="1424" y="403" width="2" height="1" fill="#000" />
<rect x="1424" y="436" width="2" height="1" fill="#000" />
<rect x="1424" y="469" width="2" height="1" fill="#000" />
<rect x="1424" y="535" width="2" height="1" fill="#000" />
<rect x="1424" y="568" width="2" height="1" fill="#000" />
<rect x="1424" y="612" width="2" height="1" fill="#000" />
</g>
<text x="1429.6" y="43.9" font-size="9.8" fill="#000" textLength="32.4" lengthAdjust="spacingAndGlyphs" >1.15830</text>
<text x="1429.6" y="76.9" font-size="9.8" fill="#000" textLength="32.4" lengthAdjust="spacingAndGlyphs" >1.15570</text>
<text x="1429.6" y="109.9" font-size="9.8" fill="#000" textLength="32.4" lengthAdjust="spacingAndGlyphs" >1.15310</text>
<text x="1429.6" y="142.9" font-size="9.8" fill="#000" textLength="32.4" lengthAdjust="spacingAndGlyphs" >1.15050</text>
<text x="1429.6" y="175.9" font-size="9.8" fill="#000" textLength="32.4" lengthAdjust="spacingAndGlyphs" >1.14790</text>
<text x="1429.6" y="208.9" font-size="9.8" fill="#000" textLength="32.4" lengthAdjust="spacingAndGlyphs" >1.14530</text>
<text x="1429.6" y="241.9" font-size="9.8" fill="#000" textLength="32.4" lengthAdjust="spacingAndGlyphs" >1.14270</text>
<text x="1429.6" y="274.9" font-size="9.8" fill="#000" textLength="32.4" lengthAdjust="spacingAndGlyphs" >1.14010</text>
<text x="1429.6" y="307.9" font-size="9.8" fill="#000" textLength="32.4" lengthAdjust="spacingAndGlyphs" >1.13750</text>
<text x="1429.6" y="340.9" font-size="9.8" fill="#000" textLength="32.4" lengthAdjust="spacingAndGlyphs" >1.13490</text>
<text x="1429.6" y="373.9" font-size="9.8" fill="#000" textLength="32.4" lengthAdjust="spacingAndGlyphs" >1.13230</text>
<text x="1429.6" y="406.9" font-size="9.8" fill="#000" textLength="32.4" lengthAdjust="spacingAndGlyphs" >1.12970</text>
<text x="1429.6" y="439.9" font-size="9.8" fill="#000" textLength="32.4" lengthAdjust="spacingAndGlyphs" >1.12710</text>
<text x="1429.6" y="472.9" font-size="9.8" fill="#000" textLength="32.4" lengthAdjust="spacingAndGlyphs" >1.12450</text>
<text x="1429.6" y="538.9" font-size="9.8" fill="#000" textLength="32.4" lengthAdjust="spacingAndGlyphs" >1.11930</text>
<text x="1429.6" y="571.9" font-size="9.8" fill="#000" textLength="32.4" lengthAdjust="spacingAndGlyphs" >1.11670</text>
<rect x="1425.5" y="498.8" width="41" height="10.4" fill="#000" />
<text x="1429.6" y="507.3" font-size="9.8" fill="#fff" textLength="32.4" lengthAdjust="spacingAndGlyphs" >1.12181</text>
<text x="1427.4" y="584.3" font-size="9.8" fill="#000" textLength="37.6" lengthAdjust="spacingAndGlyphs" >0.003386</text>
<text x="1427.4" y="615.8" font-size="9.8" fill="#000" textLength="17.6" lengthAdjust="spacingAndGlyphs" >0.00</text>
<text x="1427.4" y="674.4" font-size="9.8" fill="#000" textLength="35.8" lengthAdjust="spacingAndGlyphs" >-0.00574</text>
<text x="1427.4" y="690.0" font-size="9.8" fill="#000" textLength="14.6" lengthAdjust="spacingAndGlyphs" >100</text>
<text x="1427.4" y="722.9" font-size="9.8" fill="#000" textLength="9.6" lengthAdjust="spacingAndGlyphs" >70</text>
<text x="1427.4" y="773.8" font-size="9.8" fill="#000" textLength="9.6" lengthAdjust="spacingAndGlyphs" >30</text>
<text x="1427.4" y="806.0" font-size="9.8" fill="#000" textLength="4.6" lengthAdjust="spacingAndGlyphs" >0</text>
<g shape-rendering="crispEdges">
<rect x="8" y="810" width="1" height="3" fill="#000" />
<rect x="72" y="810" width="1" height="3" fill="#000" />
<rect x="136" y="810" width="1" height="3" fill="#000" />
<rect x="200" y="810" width="1" height="3" fill="#000" />
<rect x="264" y="810" width="1" height="3" fill="#000" />
<rect x="328" y="810" width="1" height="3" fill="#000" />
<rect x="392" y="810" width="1" height="3" fill="#000" />
<rect x="456" y="810" width="1" height="3" fill="#000" />
<rect x="520" y="810" width="1" height="3" fill="#000" />
<rect x="584" y="810" width="1" height="3" fill="#000" />
<rect x="648" y="810" width="1" height="3" fill="#000" />
<rect x="712" y="810" width="1" height="3" fill="#000" />
<rect x="776" y="810" width="1" height="3" fill="#000" />
<rect x="840" y="810" width="1" height="3" fill="#000" />
<rect x="904" y="810" width="1" height="3" fill="#000" />
<rect x="968" y="810" width="1" height="3" fill="#000" />
<rect x="1032" y="810" width="1" height="3" fill="#000" />
<rect x="1096" y="810" width="1" height="3" fill="#000" />
</g>
<text x="7.6" y="821.9" font-size="9.8" fill="#000" textLength="53.2" lengthAdjust="spacingAndGlyphs" >12 Nov 2018</text>
<text x="71.6" y="821.9" font-size="9.8" fill="#000" textLength="53.2" lengthAdjust="spacingAndGlyphs" >21 Nov 2018</text>
<text x="135.6" y="821.9" font-size="9.8" fill="#000" textLength="53.2" lengthAdjust="spacingAndGlyphs" >30 Nov 2018</text>
<text x="199.6" y="821.9" font-size="9.8" fill="#000" textLength="53.2" lengthAdjust="spacingAndGlyphs" >10 Dec 2018</text>
<text x="263.6" y="821.9" font-size="9.8" fill="#000" textLength="53.2" lengthAdjust="spacingAndGlyphs" >19 Dec 2018</text>
<text x="327.6" y="821.9" font-size="9.8" fill="#000" textLength="53.2" lengthAdjust="spacingAndGlyphs" >28 Dec 2018</text>
<text x="391.6" y="821.9" font-size="9.8" fill="#000" textLength="48.2" lengthAdjust="spacingAndGlyphs" >7 Jan 2019</text>
<text x="455.6" y="821.9" font-size="9.8" fill="#000" textLength="53.2" lengthAdjust="spacingAndGlyphs" >16 Jan 2019</text>
<text x="519.6" y="821.9" font-size="9.8" fill="#000" textLength="53.2" lengthAdjust="spacingAndGlyphs" >25 Jan 2019</text>
<text x="583.6" y="821.9" font-size="9.8" fill="#000" textLength="48.2" lengthAdjust="spacingAndGlyphs" >4 Feb 2019</text>
<text x="647.6" y="821.9" font-size="9.8" fill="#000" textLength="53.2" lengthAdjust="spacingAndGlyphs" >13 Feb 2019</text>
<text x="711.6" y="821.9" font-size="9.8" fill="#000" textLength="53.2" lengthAdjust="spacingAndGlyphs" >22 Feb 2019</text>
<text x="775.6" y="821.9" font-size="9.8" fill="#000" textLength="48.2" lengthAdjust="spacingAndGlyphs" >4 Mar 2019</text>
<text x="839.6" y="821.9" font-size="9.8" fill="#000" textLength="53.2" lengthAdjust="spacingAndGlyphs" >13 Mar 2019</text>
<text x="903.6" y="821.9" font-size="9.8" fill="#000" textLength="53.2" lengthAdjust="spacingAndGlyphs" >22 Mar 2019</text>
<text x="967.6" y="821.9" font-size="9.8" fill="#000" textLength="48.2" lengthAdjust="spacingAndGlyphs" >1 Apr 2019</text>
<text x="1031.6" y="821.9" font-size="9.8" fill="#000" textLength="53.2" lengthAdjust="spacingAndGlyphs" >10 Apr 2019</text>
<text x="1095.6" y="821.9" font-size="9.8" fill="#000" textLength="53.2" lengthAdjust="spacingAndGlyphs" >21 Apr 2019</text>
<rect x="0" y="830" width="1466" height="1.2" fill="#e6e6e6" />
<rect x="0" y="831.2" width="1466" height="21" fill="#efefef" />
<rect x="0" y="852.3" width="1466" height="2.0" fill="#fcfcfc" />
<rect x="0" y="854.3" width="1466" height="1.4" fill="#e4e4e4" />
<rect x="0" y="855.7" width="1466" height="1.3" fill="#b0b0b0" />
<rect x="0" y="850" width="3.7" height="1.5" fill="#9c9c9c" />
<rect x="3.3" y="833" width="1.6" height="17" fill="#8c8c8c" />
<rect x="5.4" y="833" width="3.4" height="17" fill="#e6e6e6" />
<rect x="4" y="832" width="6" height="1.1" fill="#000" />
<rect x="116" y="832" width="1350" height="1.1" fill="#000" />
<path d="M9.5 831 V850.2 H116.5 V832" fill="#ffffff" stroke="#000" stroke-width="1.2"/>
<rect x="10.2" y="831.4" width="105.6" height="2" fill="#ffffff" />
<text x="20.4" y="847.1" font-size="12.3" fill="#000" textLength="84.4" lengthAdjust="spacingAndGlyphs" >EURUSD-,Daily</text>
<text x="127.2" y="847.1" font-size="12.3" fill="#7d7d7d" textLength="86.6" lengthAdjust="spacingAndGlyphs" >AUDUSD-,Daily</text>
<text x="237.2" y="847.1" font-size="12.3" fill="#7d7d7d" textLength="83.8" lengthAdjust="spacingAndGlyphs" >USDCHF-,Daily</text>
<text x="343.8" y="847.1" font-size="12.3" fill="#7d7d7d" textLength="86.2" lengthAdjust="spacingAndGlyphs" >USDCAD-,Daily</text>
<text x="453.0" y="847.1" font-size="12.3" fill="#7d7d7d" textLength="88.0" lengthAdjust="spacingAndGlyphs" >USDCNH-,Daily</text>
<rect x="225.2" y="835.5" width="1" height="12.5" fill="#8c8c8c" />
<rect x="333.5" y="835.5" width="1" height="12.5" fill="#8c8c8c" />
<rect x="441.3" y="835.5" width="1" height="12.5" fill="#8c8c8c" />
<rect x="553.7" y="835.5" width="1" height="12.5" fill="#8c8c8c" />
<path d="M1442.7 837.8 V844.6 L1438.6 841.2 Z" fill="#9a9a9a"/>
<path d="M1457.6 837.8 V844.6 L1461.7 841.2 Z" fill="#9a9a9a"/>
</svg>
</body></html>
